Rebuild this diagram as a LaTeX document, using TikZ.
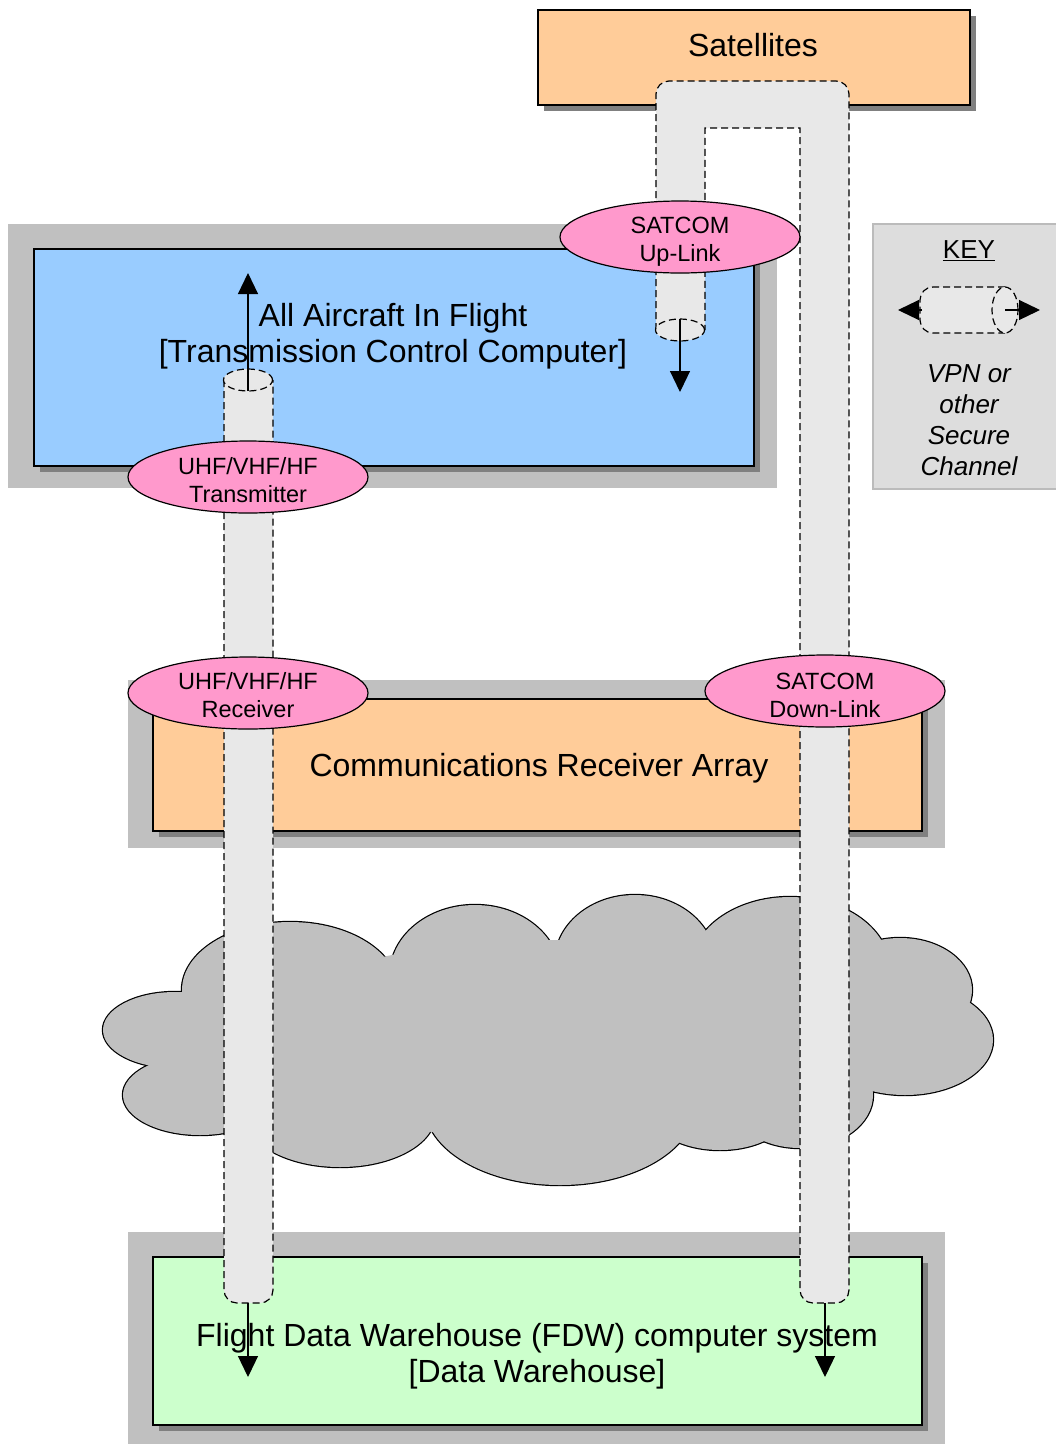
\documentclass[tikz,border=0pt]{standalone}
\usepackage{fontspec}
\setmainfont{Liberation Sans}
\usetikzlibrary{shapes.geometric}
\usetikzlibrary{arrows.meta}
\usetikzlibrary{shadows}
\definecolor{satorange}{HTML}{FFCC99}
\definecolor{aircraftblue}{HTML}{99CCFF}
\definecolor{fdwgreen}{HTML}{CCFFCC}
\definecolor{groupgrey}{HTML}{C0C0C0}
\definecolor{pipegrey}{HTML}{E8E8E8}
\definecolor{radiopink}{HTML}{FF99CC}
\definecolor{keygrey}{HTML}{DDDDDD}
\definecolor{keyedge}{HTML}{BBBBBB}
\newcommand{\radiolines}[2]{\raisebox{#1}[0pt][0pt]{\begin{tabular}[t]{@{}c@{}}#2\end{tabular}}}
\begin{document}
\begin{tikzpicture}[x=1pt,y=-1pt,>={Triangle[length=21pt,width=20pt]}]
			\tikzstyle{groupframe}=[fill=groupgrey,draw=none]
			\tikzstyle{system}=[rectangle,draw=black,line width=1.5pt,inner sep=0pt,anchor=north west,drop shadow={shadow xshift=6pt,shadow yshift=-6pt,fill=black!50,opacity=1}]
			\tikzstyle{bigtext}=[font=\fontsize{32}{36}\selectfont,align=center]
			\tikzstyle{radio}=[ellipse,draw=black,line width=1.2pt,fill=radiopink,minimum width=240pt,minimum height=72pt,inner sep=0pt,font=\fontsize{23.5}{28}\selectfont]
			\tikzstyle{pipe}=[fill=pipegrey,draw=black,line width=1.2pt,dash pattern=on 7pt off 4pt]
			\tikzstyle{flow}=[->,line width=1.2pt]
			\useasboundingbox (0,0) rectangle (1056,1444);
			
			\fill[groupframe] (8,224) rectangle (777,488);
			\fill[groupframe] (128,680) rectangle (945,848);
			\fill[groupframe] (128,1232) rectangle (945,1444);
			
			\node[system,fill=satorange,minimum width=432pt,minimum height=95pt] (sat) at (537,9) {};
			\node[system,fill=aircraftblue,minimum width=720pt,minimum height=217pt] (aircraft) at (33,248) {};
			\node[system,fill=satorange,minimum width=769pt,minimum height=132pt] (rxarray) at (152,698) {};
			\node[system,fill=fdwgreen,minimum width=769pt,minimum height=168pt] (fdw) at (152,1256) {};
			
			\node[bigtext] (sattext) at (753,45) {Satellites};
			\node[bigtext] (aircrafttext) at (393,336) {All Aircraft In Flight\\{[Transmission Control Computer]}};
			\node[bigtext] (rxarraytext) at (539,768) {Communications Receiver Array};
			\node[bigtext] (fdwtext) at (537,1356) {Flight Data Warehouse (FDW) computer system\\{[Data Warehouse]}};
			
			\draw[fill=keygrey,draw=keyedge,line width=2pt] (873,224) rectangle (1064,489);
			\node[font=\fontsize{26}{31}\selectfont] (keytitle) at (969,251) {\underline{KEY}};
			\node[font=\fontsize{26}{31}\selectfont\itshape,align=center] (keytext) at (969,420) {VPN or\\other\\Secure\\Channel};
			\draw[pipe,rounded corners=13pt] (1005,287) -- (920,287) -- (920,333) -- (1005,333);
			\draw[pipe] (1005,310) ellipse [x radius=13pt,y radius=23pt];
			\coordinate (keyleft) at (922,310);
			\coordinate (keyright) at (1005,310);
			\coordinate (keylefttip) at (898,310);
			\coordinate (keyrighttip) at (1040,310);
			\draw[flow] (keyleft) -- (keylefttip);
			\draw[flow] (keyright) -- (keyrighttip);
			
			\foreach \cx/\cy/\rx/\ry in {175/1030/72/38, 200/1095/77/40, 290/990/108/68, 475/975/85/70, 635/962/80/67, 790/970/100/73, 900/990/72/52, 905/1040/88/55, 800/1095/73/53, 720/1110/70/40, 560/1105/135/80, 340/1115/95/52}
				\draw[line width=2.4pt] (\cx,\cy) ellipse [x radius=\rx pt,y radius=\ry pt];
			\foreach \cx/\cy/\rx/\ry in {175/1030/72/38, 200/1095/77/40, 290/990/108/68, 475/975/85/70, 635/962/80/67, 790/970/100/73, 900/990/72/52, 905/1040/88/55, 800/1095/73/53, 720/1110/70/40, 560/1105/135/80, 340/1115/95/52, 550/1040/300/100}
				\fill[groupgrey] (\cx,\cy) ellipse [x radius=\rx pt,y radius=\ry pt];
			
			\draw[pipe,rounded corners=13pt] (224,380) -- (224,1303) -- (273,1303) -- (273,380);
			\draw[pipe] (248,380) ellipse [x radius=24.5pt,y radius=11pt];
			\draw[pipe] (656,330) [rounded corners=13pt] -- (656,81) -- (849,81) -- (849,1303) -- (800,1303) [sharp corners] -- (800,128) -- (705,128) -- (705,330);
			\draw[pipe] (680,330) ellipse [x radius=24.5pt,y radius=11pt];
			
			\coordinate (txend) at (248,391);
			\coordinate (txtip) at (248,273);
			\coordinate (upend) at (680,319);
			\coordinate (uptip) at (680,392);
			\coordinate (rxend) at (248,1303);
			\coordinate (rxtip) at (248,1377);
			\coordinate (downend) at (825,1303);
			\coordinate (downtip) at (825,1377);
			\draw[flow] (txend) -- (txtip);
			\draw[flow] (upend) -- (uptip);
			\draw[flow] (rxend) -- (rxtip);
			\draw[flow] (downend) -- (downtip);
			
			\node[radio] (uplink) at (680,237) {\radiolines{3.6pt}{SATCOM\\Up-Link}};
			\node[radio] (tx) at (248,477) {\radiolines{2.6pt}{UHF/VHF/HF\\Transmitter}};
			\node[radio] (rx) at (248,693) {\radiolines{3.6pt}{UHF/VHF/HF\\Receiver}};
			\node[radio] (downlink) at (825,691) {\radiolines{1.6pt}{SATCOM\\Down-Link}};
\end{tikzpicture}
\end{document}
